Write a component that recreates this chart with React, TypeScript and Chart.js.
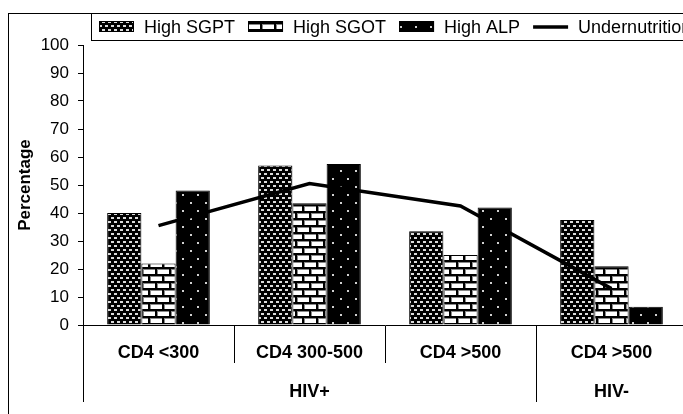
import React, { useEffect, useRef } from 'react';
import { Chart, registerables } from 'chart.js';

Chart.register(...registerables);

const categories = ['CD4 <300', 'CD4 300-500', 'CD4 >500', 'CD4 >500'];
const groupLabels = ['HIV+', 'HIV-'];
const groupSpans = [3, 1];
const seriesNames = ['High SGPT', 'High SGOT', 'High ALP', 'Undernutrition'];
const highSGPT = [40, 57, 33.5, 37.5];
const highSGOT = [22, 43.5, 25, 21];
const highALP = [48, 57.5, 42, 6.5];
const undernutrition = [35.5, 50.5, 42.5, 13];
const yMin = 0;
const yMax = 100;
const yStep = 10;

const FONT = '"Liberation Sans", Arial, Helvetica, sans-serif';

function makePattern(
  ctx: CanvasRenderingContext2D,
  w: number,
  h: number,
  draw: (g: CanvasRenderingContext2D) => void
): CanvasPattern {
  const c = document.createElement('canvas');
  c.width = w;
  c.height = h;
  const g = c.getContext('2d') as CanvasRenderingContext2D;
  draw(g);
  return ctx.createPattern(c, 'repeat') as CanvasPattern;
}

export default function App() {
  const ref = useRef<HTMLCanvasElement>(null);

  useEffect(() => {
    const canvas = ref.current as HTMLCanvasElement;
    const ctx = canvas.getContext('2d') as CanvasRenderingContext2D;

    const pSGPT = makePattern(ctx, 6, 8, (g) => {
      g.fillStyle = '#000';
      g.fillRect(0, 0, 6, 8);
      g.fillStyle = '#dcdcdc';
      g.fillRect(1, 1, 3, 2);
      g.fillRect(4, 5, 3, 2);
      g.fillRect(0, 5, 1, 2);
    });
    const pSGOT = makePattern(ctx, 14, 14, (g) => {
      g.fillStyle = '#fff';
      g.fillRect(0, 0, 14, 14);
      g.fillStyle = '#888';
      g.fillRect(0, 0, 14, 3);
      g.fillRect(0, 7, 14, 3);
      g.fillRect(0, 3, 3, 4);
      g.fillRect(7, 10, 3, 4);
      g.fillStyle = '#000';
      g.fillRect(0, 0, 14, 2);
      g.fillRect(0, 7, 14, 2);
      g.fillRect(0, 2, 2, 5);
      g.fillRect(7, 9, 2, 5);
    });
    const pALP = makePattern(ctx, 15, 16, (g) => {
      g.fillStyle = '#000';
      g.fillRect(0, 0, 15, 16);
      g.fillStyle = '#d0d0d0';
      g.fillRect(2, 2, 2, 2);
      g.fillRect(9, 10, 2, 2);
    });

    const legendPlugin = {
      id: 'customLegend',
      afterDraw(chart: any) {
        const c: CanvasRenderingContext2D = chart.ctx;
        c.save();
        c.strokeStyle = '#000';
        c.lineWidth = 1;
        c.strokeRect(0.5, 5.5, chart.width + 40, chart.height + 40);
        c.fillStyle = '#fff';
        c.fillRect(83.5, 5.5, chart.width, 27);
        c.strokeRect(83.5, 5.5, chart.width, 27);
        c.font = `18px ${FONT}`;
        c.textBaseline = 'middle';
        c.textAlign = 'left';
        const cy = 19;
        let x = 91;
        const ds = chart.data.datasets;
        seriesNames.forEach((name, i) => {
          const d = ds[i];
          if (d.type === 'line') {
            c.strokeStyle = '#000';
            c.lineWidth = 3.5;
            c.beginPath();
            c.moveTo(x, cy);
            c.lineTo(x + 35, cy);
            c.stroke();
          } else {
            c.fillStyle = d.backgroundColor;
            c.fillRect(x, 13, 35, 11);
            c.strokeStyle = '#000';
            c.lineWidth = 1;
            c.strokeRect(x + 0.5, 13.5, 34, 10);
          }
          x += 35 + 10;
          c.fillStyle = '#000';
          c.fillText(name, x, cy + 1);
          x += c.measureText(name).width + 13;
        });
        c.restore();
      },
    };

    const groupAxisPlugin = {
      id: 'groupAxis',
      afterDraw(chart: any) {
        const c: CanvasRenderingContext2D = chart.ctx;
        const xs = chart.scales.x;
        const bottom = chart.chartArea.bottom;
        const n = categories.length;
        const edge = (i: number) =>
          i === 0
            ? xs.left
            : i === n
            ? xs.right
            : (xs.getPixelForValue(i - 1) + xs.getPixelForValue(i)) / 2;
        c.save();
        c.strokeStyle = '#000';
        c.lineWidth = 1;
        c.fillStyle = '#000';
        c.font = `bold 18px ${FONT}`;
        c.textAlign = 'center';
        c.textBaseline = 'middle';
        let start = 0;
        groupSpans.forEach((span, gi) => {
          const x0 = edge(start);
          const x1 = edge(start + span);
          [x0, x1].forEach((xx) => {
            const px = Math.round(xx) + 0.5;
            c.beginPath();
            c.moveTo(px, bottom);
            c.lineTo(px, bottom + 77);
            c.stroke();
          });
          c.fillText(groupLabels[gi], (x0 + x1) / 2, bottom + 67);
          start += span;
        });
        c.restore();
      },
    };

    const barCommon = {
      borderColor: '#000',
      borderWidth: 1,
      barPercentage: 1,
      categoryPercentage: 0.68,
      order: 1,
    };

    const chart = new Chart(canvas, {
      type: 'bar',
      data: {
        labels: categories,
        datasets: [
          { type: 'bar', label: seriesNames[0], data: highSGPT, backgroundColor: pSGPT, ...barCommon } as any,
          { type: 'bar', label: seriesNames[1], data: highSGOT, backgroundColor: pSGOT, ...barCommon } as any,
          { type: 'bar', label: seriesNames[2], data: highALP, backgroundColor: pALP, ...barCommon } as any,
          {
            type: 'line',
            label: seriesNames[3],
            data: undernutrition,
            borderColor: '#000',
            backgroundColor: '#000',
            borderWidth: 3.5,
            pointRadius: 0,
            fill: false,
            tension: 0,
            order: 0,
          } as any,
        ],
      },
      options: {
        responsive: false,
        animation: false,
        events: [],
        layout: { padding: { left: 0, top: 37, right: 21, bottom: 0 } },
        plugins: {
          legend: { display: false },
          title: { display: false },
          tooltip: { enabled: false },
        },
        scales: {
          x: {
            type: 'category',
            offset: true,
            grid: {
              offset: true,
              drawOnChartArea: false,
              drawTicks: true,
              tickLength: 38,
              color: '#000',
              lineWidth: 1,
            },
            border: { display: true, color: '#000', width: 1 },
            ticks: {
              color: '#000',
              font: { family: FONT, size: 18, weight: 'bold' },
              padding: -21,
              maxRotation: 0,
              minRotation: 0,
              autoSkip: false,
            },
            afterFit: (s: any) => {
              s.height = 103;
            },
          },
          y: {
            min: yMin,
            max: yMax,
            grid: {
              drawOnChartArea: false,
              drawTicks: true,
              tickLength: 5,
              color: '#000',
              lineWidth: 1,
            },
            border: { display: true, color: '#000', width: 1 },
            ticks: {
              stepSize: yStep,
              color: '#000',
              font: { family: FONT, size: 17 },
              padding: 9,
            },
            title: {
              display: true,
              text: 'Percentage',
              color: '#000',
              font: { family: FONT, size: 17, weight: 'bold' },
              padding: { top: 7, bottom: 0 },
            },
            afterFit: (s: any) => {
              s.width = 75;
            },
          },
        },
      } as any,
      plugins: [legendPlugin, groupAxisPlugin],
    });

    return () => chart.destroy();
  }, []);

  return (
    <div
      style={{
        position: 'absolute',
        left: 8,
        top: 8,
        width: 675,
        height: 406,
        overflow: 'hidden',
        background: '#fff',
      }}
    >
      <canvas ref={ref} width={700} height={420} style={{ display: 'block' }} />
    </div>
  );
}
